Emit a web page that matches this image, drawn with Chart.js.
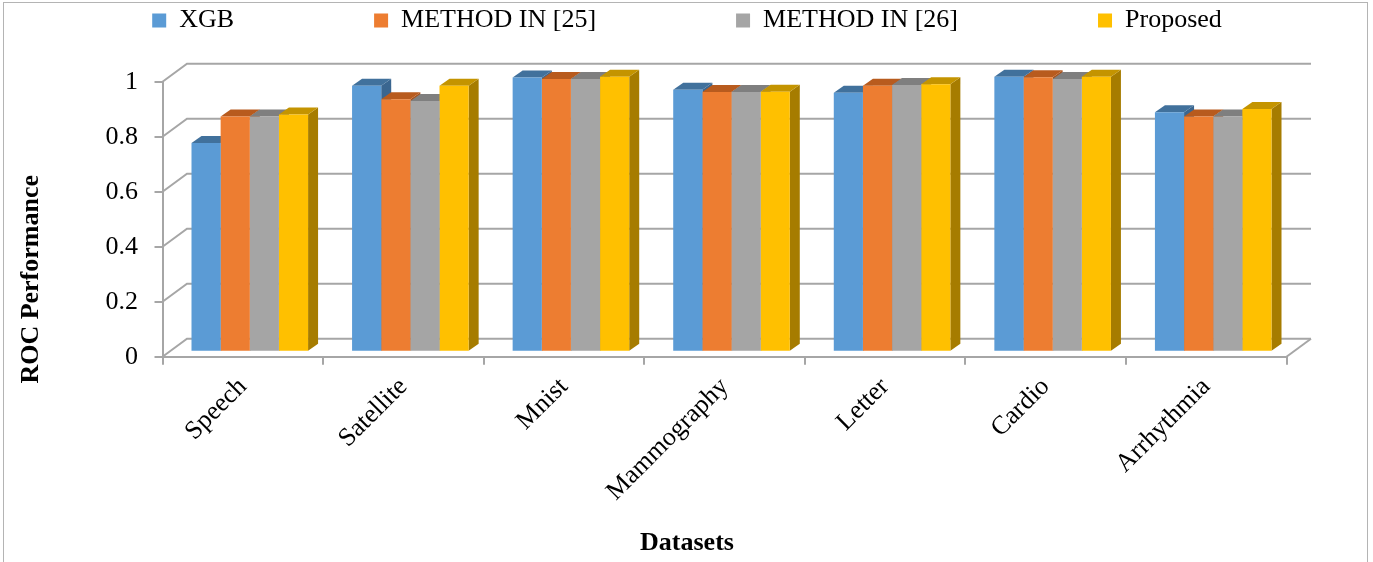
<!DOCTYPE html>
<html><head><meta charset="utf-8">
<script src="https://cdn.jsdelivr.net/npm/chart.js@4/dist/chart.umd.min.js"></script>
<style>html,body{margin:0;padding:0;background:#fff}canvas{display:block}</style>
</head><body>
<canvas id="c" width="1373" height="562"></canvas>
<script>
// ---- data ----
const categories = ['Speech', 'Satellite', 'Mnist', 'Mammography', 'Letter', 'Cardio', 'Arrhythmia'];
const seriesNames = ['XGB', 'METHOD IN [25]', 'METHOD IN [26]', 'Proposed'];
const xgb      = [0.759, 0.967, 0.997, 0.953, 0.942, 1.000, 0.871];
const method25 = [0.855, 0.918, 0.992, 0.944, 0.967, 0.998, 0.855];
const method26 = [0.855, 0.912, 0.992, 0.944, 0.970, 0.992, 0.855];
const proposed = [0.863, 0.967, 1.000, 0.945, 0.973, 1.000, 0.883];
const yTickValues = [0, 0.2, 0.4, 0.6, 0.8, 1];
const yTickLabels = ['0', '0.2', '0.4', '0.6', '0.8', '1'];
const xTitle = 'Datasets';
const yTitle = 'ROC Performance';

// ---- styles ----
const frontColors = ['#5b9bd5', '#ed7d31', '#a5a5a5', '#ffc000'];
const topColors   = ['#41719c', '#b85b1e', '#7f7f7f', '#c49400'];
const sideColors  = ['#3a6690', '#a9521b', '#767676', '#a67c00'];
const FONT = 'Liberation Serif';
const GRID = '#a6a6a6';
const WALL_DX = 24.5, WALL_DY = -18;     // back wall offset
const BAR_SHIFT_X = 7, BAR_SHIFT_Y = -5; // bar depth position
const BAR_DX = 10, BAR_DY = -7;          // bar thickness
const LEGEND_GAP = 140;
const LEGEND_Y = 7.5;

const threeD = {
  id: 'threeD',
  beforeDraw(chart) {
    const lg = chart.legend;
    if (lg) { lg._savedTop = lg.top; lg.top = LEGEND_Y - LEGEND_GAP; }
  },
  afterDraw(chart) {
    const lg = chart.legend;
    if (lg && lg._savedTop !== undefined) { lg.top = lg._savedTop; delete lg._savedTop; }
    const ctx = chart.ctx;
    ctx.save();
    ctx.strokeStyle = '#b4b4b4';
    ctx.lineWidth = 1;
    ctx.strokeRect(3.5, 2.5, 1364, 580);
    ctx.restore();
  },
  beforeDatasetsDraw(chart) {
    const ctx = chart.ctx, a = chart.chartArea, y = chart.scales.y;
    ctx.save();
    ctx.strokeStyle = GRID;
    ctx.lineWidth = 2;
    y.ticks.forEach(t => {
      const py = y.getPixelForValue(t.value);
      ctx.beginPath();
      ctx.moveTo(a.left, py);
      ctx.lineTo(a.left + WALL_DX, py + WALL_DY);
      ctx.lineTo(a.right + WALL_DX, py + WALL_DY);
      ctx.stroke();
    });
    const p0 = y.getPixelForValue(0);
    ctx.beginPath();
    ctx.moveTo(a.right, p0);
    ctx.lineTo(a.right + WALL_DX, p0 + WALL_DY);
    ctx.stroke();
    ctx.restore();

    ctx.save();
    ctx.translate(BAR_SHIFT_X, BAR_SHIFT_Y);
    const n = chart.data.labels.length;
    const dsCount = chart.data.datasets.length;
    for (let j = 0; j < n; j++) {
      for (let i = 0; i < dsCount; i++) {
        const el = chart.getDatasetMeta(i).data[j];
        if (!el) continue;
        const p = el.getProps(['x', 'y', 'base', 'width'], true);
        const l = p.x - p.width / 2, r = p.x + p.width / 2;
        // side face
        ctx.fillStyle = sideColors[i];
        ctx.beginPath();
        ctx.moveTo(r, p.y); ctx.lineTo(r + BAR_DX, p.y + BAR_DY);
        ctx.lineTo(r + BAR_DX, p.base + BAR_DY); ctx.lineTo(r, p.base);
        ctx.closePath(); ctx.fill();
        // top face
        ctx.fillStyle = topColors[i];
        ctx.beginPath();
        ctx.moveTo(l, p.y); ctx.lineTo(l + BAR_DX, p.y + BAR_DY);
        ctx.lineTo(r + BAR_DX, p.y + BAR_DY); ctx.lineTo(r, p.y);
        ctx.closePath(); ctx.fill();
      }
    }
  },
  afterDatasetsDraw(chart) {
    chart.ctx.restore();
  }
};

const seriesValues = [xgb, method25, method26, proposed];

new Chart(document.getElementById('c'), {
  type: 'bar',
  data: {
    labels: categories,
    datasets: seriesNames.map((name, i) => ({
      label: name,
      data: seriesValues[i],
      backgroundColor: frontColors[i],
      borderWidth: 0,
      categoryPercentage: 0.726,
      barPercentage: 1.0,
      clip: false
    }))
  },
  options: {
    responsive: false,
    animation: false,
    layout: { padding: { left: 1, right: 0, top: 0, bottom: 3.4 } },
    plugins: {
      tooltip: { enabled: false },
      legend: {
        position: 'top',
        align: 'center',
        maxHeight: 81.7,
        labels: {
          boxWidth: 14, boxHeight: 14, padding: LEGEND_GAP, color: '#000',
          font: { family: FONT, size: 26 }
        }
      },
      title: {
        display: true, text: yTitle, position: 'left', color: '#000',
        font: { family: FONT, size: 26, weight: 'bold' },
        padding: { top: 14.4, bottom: 0 }
      },
      subtitle: {
        display: true, text: xTitle, position: 'bottom', color: '#000',
        font: { family: FONT, size: 26, weight: 'bold' },
        padding: { top: 1.5, bottom: 0 }
      }
    },
    scales: {
      x: {
        offset: true,
        grid: { display: true, drawOnChartArea: false, drawTicks: true, tickLength: 8, color: GRID, lineWidth: 2, offset: true },
        border: { display: true, color: GRID, width: 2 },
        ticks: { color: '#000', font: { family: FONT, size: 26 }, minRotation: 45, maxRotation: 45, autoSkip: false, padding: 7 },
        afterFit(s) { s.height = 169.2; }
      },
      y: {
        min: 0, max: 1,
        afterBuildTicks(s) { s.ticks = yTickValues.map(v => ({ value: v })); },
        grid: { drawOnChartArea: false, drawTicks: true, tickLength: 8, color: GRID, lineWidth: 2 },
        border: { display: true, color: GRID, width: 2 },
        ticks: { color: '#000', font: { family: FONT, size: 26 }, padding: 16.5,
                 callback: (v, idx) => yTickLabels[idx] },
        afterFit(s) { s.width = 115.9; }
      },
      y2: {
        position: 'right', display: true,
        grid: { display: false, drawTicks: false },
        border: { display: false },
        ticks: { display: false },
        afterFit(s) { s.width = 86.5; }
      }
    }
  },
  plugins: [threeD]
});
</script>
</body></html>
